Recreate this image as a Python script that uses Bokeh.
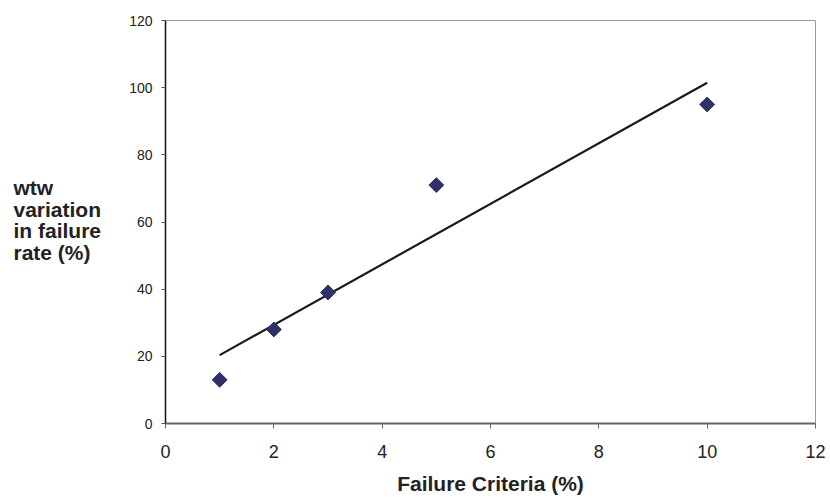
import numpy as np
from bokeh.plotting import figure
from bokeh.layouts import row
from bokeh.models import Range1d, FixedTicker, Label
from bokeh.embed import file_html
from bokeh.resources import INLINE

# Data
failure_criteria = [1, 2, 3, 5, 10]
wtw_variation = [13, 28, 39, 71, 95]
x_ticks = [0, 2, 4, 6, 8, 10, 12]
y_ticks = [0, 20, 40, 60, 80, 100, 120]
x_title = "Failure Criteria (%)"
y_title = "wtw\nvariation\nin failure\nrate (%)"

FONT = "Liberation Sans"
H = 500
LEFT_W = 120

# Left panel that holds the horizontal, left-aligned y-axis title
lab = figure(width=LEFT_W, height=H, output_backend="svg", toolbar_location=None,
             x_range=Range1d(0, LEFT_W), y_range=Range1d(0, H),
             min_border=0, x_axis_type=None, y_axis_type=None)
lab.outline_line_color = None
lab.xgrid.visible = False
lab.ygrid.visible = False
lab.add_layout(Label(x=13, y=H - 193, text=y_title, text_font=FONT, text_font_size="21px",
                     text_font_style="bold", text_color="#222222", text_align="left",
                     text_baseline="top", text_line_height=0.94))

p = figure(width=828 - LEFT_W, height=H, output_backend="svg", toolbar_location=None,
           x_range=Range1d(0, 12), y_range=Range1d(0, 120))
p.min_border_left = 165 - LEFT_W
p.min_border_right = 13
p.min_border_top = 20
p.min_border_bottom = H - 423
p.background_fill_color = "white"
p.border_fill_color = "white"
p.outline_line_color = "#9a9a9a"
p.outline_line_width = 1
p.xgrid.visible = False
p.ygrid.visible = False

# Axes
p.xaxis.ticker = FixedTicker(ticks=x_ticks)
p.yaxis.ticker = FixedTicker(ticks=y_ticks)
p.xaxis.minor_tick_line_color = None
p.yaxis.minor_tick_line_color = None

p.xaxis.axis_line_color = "#666666"
p.xaxis.axis_line_width = 2
p.xaxis.major_tick_line_color = "#666666"
p.xaxis.major_tick_line_width = 1
p.xaxis.major_tick_out = 5
p.xaxis.major_tick_in = 0
p.xaxis.major_label_standoff = 16
p.xaxis.major_label_text_font = FONT
p.xaxis.major_label_text_font_size = "18px"
p.xaxis.major_label_text_color = "#222222"
p.xaxis.axis_label = x_title
p.xaxis.axis_label_text_font = FONT
p.xaxis.axis_label_text_font_size = "21px"
p.xaxis.axis_label_text_font_style = "bold"
p.xaxis.axis_label_text_color = "#222222"
p.xaxis.axis_label_standoff = 11

p.yaxis.axis_line_color = "#111111"
p.yaxis.axis_line_width = 1.5
p.yaxis.major_tick_line_color = "#555555"
p.yaxis.major_tick_out = 4
p.yaxis.major_tick_in = 0
p.yaxis.major_label_standoff = 9
p.yaxis.major_label_text_font = FONT
p.yaxis.major_label_text_font_size = "14px"
p.yaxis.major_label_text_color = "#222222"

# Trend line (least-squares fit to the data)
slope, intercept = np.polyfit(failure_criteria, wtw_variation, 1)
tx = [min(failure_criteria), max(failure_criteria)]
ty = [slope * v + intercept for v in tx]
p.line(tx, ty, line_color="#1a1a1a", line_width=2.2)

# Points
p.scatter(failure_criteria, wtw_variation, marker="square", size=10.5, angle=np.pi / 4,
          fill_color="#2f3167", line_color="#2f3167")

layout = row(lab, p, spacing=0)
open("out.html", "w").write(file_html(layout, INLINE))
